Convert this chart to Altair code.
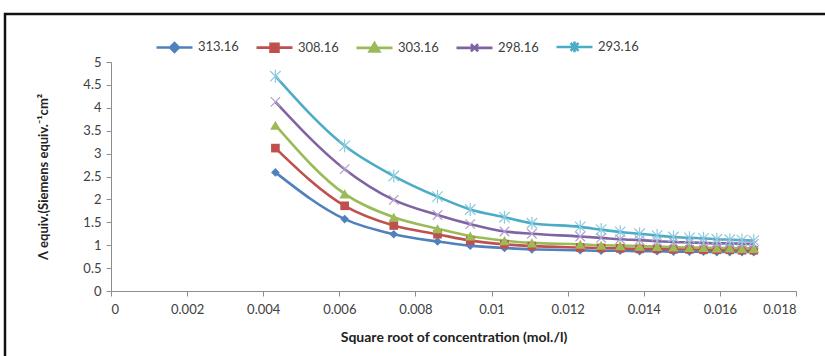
import altair as alt
import pandas as pd

# Square root of concentration (mol./l) for each measured solution
sqrt_conc = [0.00432, 0.00614, 0.00743, 0.00858, 0.00944, 0.01034, 0.01106,
             0.01233, 0.01288, 0.01338, 0.01389, 0.01435, 0.01478, 0.01520,
             0.01557, 0.01592, 0.01626, 0.01658, 0.01689]

# Equivalent conductance at each temperature (K)
series_names = ["313.16", "308.16", "303.16", "298.16", "293.16"]
lam_313 = [2.59, 1.57, 1.24, 1.08, 0.99, 0.94, 0.91,
           0.89, 0.88, 0.88, 0.87, 0.87, 0.86, 0.86, 0.86, 0.85, 0.85, 0.85, 0.85]
lam_308 = [3.12, 1.86, 1.43, 1.24, 1.10, 1.02, 0.98,
           0.95, 0.94, 0.93, 0.92, 0.92, 0.91, 0.91, 0.90, 0.90, 0.90, 0.89, 0.89]
lam_303 = [3.62, 2.12, 1.61, 1.36, 1.20, 1.10, 1.05,
           1.02, 1.00, 0.99, 0.98, 0.97, 0.96, 0.95, 0.95, 0.94, 0.94, 0.93, 0.93]
lam_298 = [4.13, 2.66, 1.99, 1.66, 1.46, 1.30, 1.25,
           1.19, 1.16, 1.13, 1.11, 1.09, 1.07, 1.06, 1.05, 1.04, 1.04, 1.03, 1.03]
lam_293 = [4.69, 3.17, 2.51, 2.06, 1.78, 1.61, 1.48,
           1.40, 1.34, 1.29, 1.25, 1.21, 1.18, 1.16, 1.15, 1.13, 1.12, 1.11, 1.10]

y_ticks = [0, 0.5, 1, 1.5, 2, 2.5, 3, 3.5, 4, 4.5, 5]
x_ticks = [0, 0.002, 0.004, 0.006, 0.008, 0.01, 0.012, 0.014, 0.016, 0.018]

line_colors = ["#4F81BD", "#C0504D", "#9BBB59", "#8064A2", "#4BACC6"]
marker_colors = ["#4F81BD", "#C0504D", "#9BBB59", "#B09FD0", "#8CCAE0"]

# Marker glyphs (unit square coordinates)
X_PATH = "M-1,-1L1,1M-1,1L1,-1"
STAR_PATH = "M-1,-1L1,1M-1,1L1,-1M0,-1.25L0,1.25"
marker_shapes = ["diamond", "square", "triangle-up", X_PATH, STAR_PATH]
marker_sizes = [75, 75, 110, 90, 110]
marker_filled = [True, True, True, False, False]

# Legend glyphs: a short line segment with the series marker on it
legend_glyphs = [
    "M-1,0L1,0M-0.24,0L0,-0.24L0.24,0L0,0.24Z",
    "M-1,0L1,0M-0.22,-0.22L0.22,-0.22L0.22,0.22L-0.22,0.22Z",
    "M-1,0L1,0M0,-0.26L0.27,0.2L-0.27,0.2Z",
    "M-1,0L1,0M-0.2,-0.2L0.2,0.2M-0.2,0.2L0.2,-0.2",
    "M-1,0L1,0M-0.22,-0.22L0.22,0.22M-0.22,0.22L0.22,-0.22M0,-0.3L0,0.3",
]

rows = []
for name, vals in zip(series_names, [lam_313, lam_308, lam_303, lam_298, lam_293]):
    for x, v in zip(sqrt_conc, vals):
        rows.append({"sqrt_c": x, "lam": v, "temp": name})
df = pd.DataFrame(rows)

FONT = "Lato"
AXIS_GREY = "#8C8C8C"
TEXT = "#404040"

x_enc = alt.X(
    "sqrt_c:Q",
    scale=alt.Scale(domain=[0, 0.018], nice=False, zero=True),
    axis=alt.Axis(
        values=x_ticks, format="~g", title="Square root of concentration (mol./l)",
        grid=False, domainColor=AXIS_GREY, tickColor=AXIS_GREY, tickSize=5,
        labelFont=FONT, labelFontSize=13, labelColor=TEXT, labelPadding=7,
        labelOverlap=False,
        titleFont=FONT, titleFontSize=14, titleFontWeight="bold", titleColor="#222222",
        titlePadding=14,
    ),
)
y_enc = alt.Y(
    "lam:Q",
    scale=alt.Scale(domain=[0, 5], nice=False),
    axis=alt.Axis(
        values=y_ticks, format="~g", title="Λ equiv.(Siemens equiv.⁻¹cm²",
        grid=False, domainColor=AXIS_GREY, tickColor=AXIS_GREY, tickSize=5,
        labelFont=FONT, labelFontSize=13, labelColor=TEXT, labelPadding=5,
        labelOverlap=False,
        titleFont=FONT, titleFontSize=13, titleFontWeight="bold", titleColor="#222222",
        titlePadding=32,
    ),
)

base = alt.Chart(df)

# Legend carrier: no rows survive the filter, the scales come from explicit domains
legend_kw = dict(
    title=None, orient="none", legendX=44, legendY=-35,
    direction="horizontal", symbolSize=1296, symbolStrokeWidth=2.6,
    symbolOpacity=1, labelFont=FONT, labelFontSize=13, labelColor=TEXT,
    labelOffset=4, columnPadding=12,
)
legend_layer = base.transform_filter(alt.datum.lam < 0).mark_point(
    filled=True, opacity=1
).encode(
    x=x_enc,
    y=y_enc,
    fill=alt.Fill("temp:N", scale=alt.Scale(domain=series_names, range=line_colors),
                  sort=series_names, legend=alt.Legend(**legend_kw)),
    stroke=alt.Stroke("temp:N", scale=alt.Scale(domain=series_names, range=line_colors),
                      sort=series_names, legend=alt.Legend(**legend_kw)),
    shape=alt.Shape("temp:N", scale=alt.Scale(domain=series_names, range=legend_glyphs),
                    sort=series_names, legend=alt.Legend(**legend_kw)),
)

line_layers = []
point_layers = []
for name, lcol, shape, size, filled, mcol in zip(series_names, line_colors, marker_shapes,
                                                 marker_sizes, marker_filled, marker_colors):
    sub = base.transform_filter(alt.datum.temp == name)
    line_layers.append(
        sub.mark_line(interpolate="monotone", strokeWidth=2.6, color=lcol)
        .encode(x=x_enc, y=y_enc)
    )
    props = dict(shape=shape, size=size, filled=filled, color=mcol, opacity=1)
    if not filled:
        props["strokeWidth"] = 1.2
    point_layers.append(sub.mark_point(**props).encode(x=x_enc, y=y_enc))

# Outer frame around the whole figure
frame = alt.Chart(pd.DataFrame({"k": [0]})).mark_rect(
    fillOpacity=0, stroke="#111111", strokeWidth=2.5
).encode(
    x=alt.value(-106), x2=alt.value(740), y=alt.value(-48), y2=alt.value(320)
)

chart = alt.layer(frame, legend_layer, *line_layers, *point_layers).properties(
    width=685, height=229,
    autosize=alt.AutoSizeParams(type="none"),
    padding={"left": 111, "top": 62, "right": 29, "bottom": 65},
    background="white",
).configure_view(stroke=None)

chart.save("out.html", embed_options={"renderer": "svg", "actions": False})
